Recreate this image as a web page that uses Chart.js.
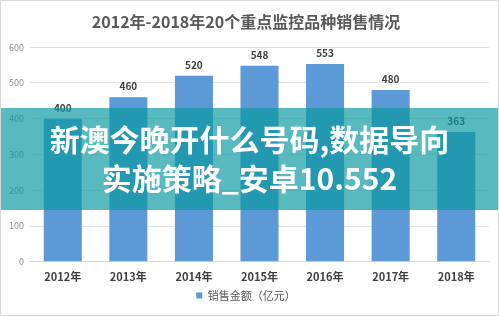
<!DOCTYPE html>
<html>
<head>
<meta charset="utf-8">
<script src="https://cdn.jsdelivr.net/npm/chart.js@4"></script>
<style>
  html, body { margin: 0; padding: 0; background: #fff; }
  #wrap { position: relative; width: 499px; height: 316px; box-sizing: border-box; border: 1px solid #d9d9d9; }
  #banner {
    position: absolute; left: 0; top: 107px; width: 100%; height: 102px;
    background: rgba(9, 152, 159, 0.68);
    color: #fff; font-family: "Noto Sans CJK SC", sans-serif; font-weight: bold;
    font-size: 30px; line-height: 39px; text-align: center;
    box-sizing: border-box; padding-top: 11px;
  }
</style>
</head>
<body>
<div id="wrap">
  <canvas id="grafico" width="497" height="314"></canvas>
  <div id="banner">新澳今晚开什么号码,数据导向<br>实施策略_安卓10.552</div>
</div>
<script>
// dados do grafico
const anos = ['2012年', '2013年', '2014年', '2015年', '2016年', '2017年', '2018年'];
const vendas = [400, 460, 520, 548, 553, 480, 363];
const serieNome = '销售金额（亿元）';
const titulo = '2012年-2018年20个重点监控品种销售情况';

const fonte = '"Noto Sans CJK SC", "Noto Sans", sans-serif';

// rotulos em cima das barras
const rotulos = {
  id: 'rotulos',
  afterDatasetsDraw(chart) {
    const ctx = chart.ctx;
    const meta = chart.getDatasetMeta(0);
    ctx.save();
    ctx.font = 'bold 10px ' + fonte;
    ctx.fillStyle = '#404040';
    ctx.textAlign = 'center';
    ctx.textBaseline = 'bottom';
    meta.data.forEach((bar, i) => {
      ctx.fillText(vendas[i], bar.x, bar.y - 6);
    });
    ctx.restore();
  }
};

new Chart(document.getElementById('grafico'), {
  type: 'bar',
  data: {
    labels: anos,
    datasets: [{
      label: serieNome,
      data: vendas,
      backgroundColor: '#5b99d7',
      categoryPercentage: 1,
      barPercentage: 0.58
    }]
  },
  options: {
    responsive: false,
    animation: false,
    layout: { padding: { left: 2, right: 9, top: 9, bottom: 4 } },
    plugins: {
      title: {
        display: true,
        text: titulo,
        color: '#595959',
        font: { family: fonte, size: 16, weight: 'bold' },
        padding: { top: 2, bottom: 16 }
      },
      legend: {
        position: 'bottom',
        labels: {
          boxWidth: 6, boxHeight: 6,
          color: '#595959',
          font: { family: fonte, size: 11 },
          padding: 7
        }
      },
      tooltip: { enabled: false }
    },
    scales: {
      x: {
        grid: { display: false },
        border: { color: '#d9d9d9' },
        ticks: { color: '#404040', font: { family: fonte, size: 11, weight: 'bold' }, padding: 0 }
      },
      y: {
        min: 0, max: 600,
        ticks: { stepSize: 100, color: '#8c8c8c', font: { family: fonte, size: 9 }, padding: 6 },
        grid: { color: '#e3e3e3', drawTicks: false },
        border: { display: false }
      }
    }
  },
  plugins: [rotulos]
});
</script>
</body>
</html>
